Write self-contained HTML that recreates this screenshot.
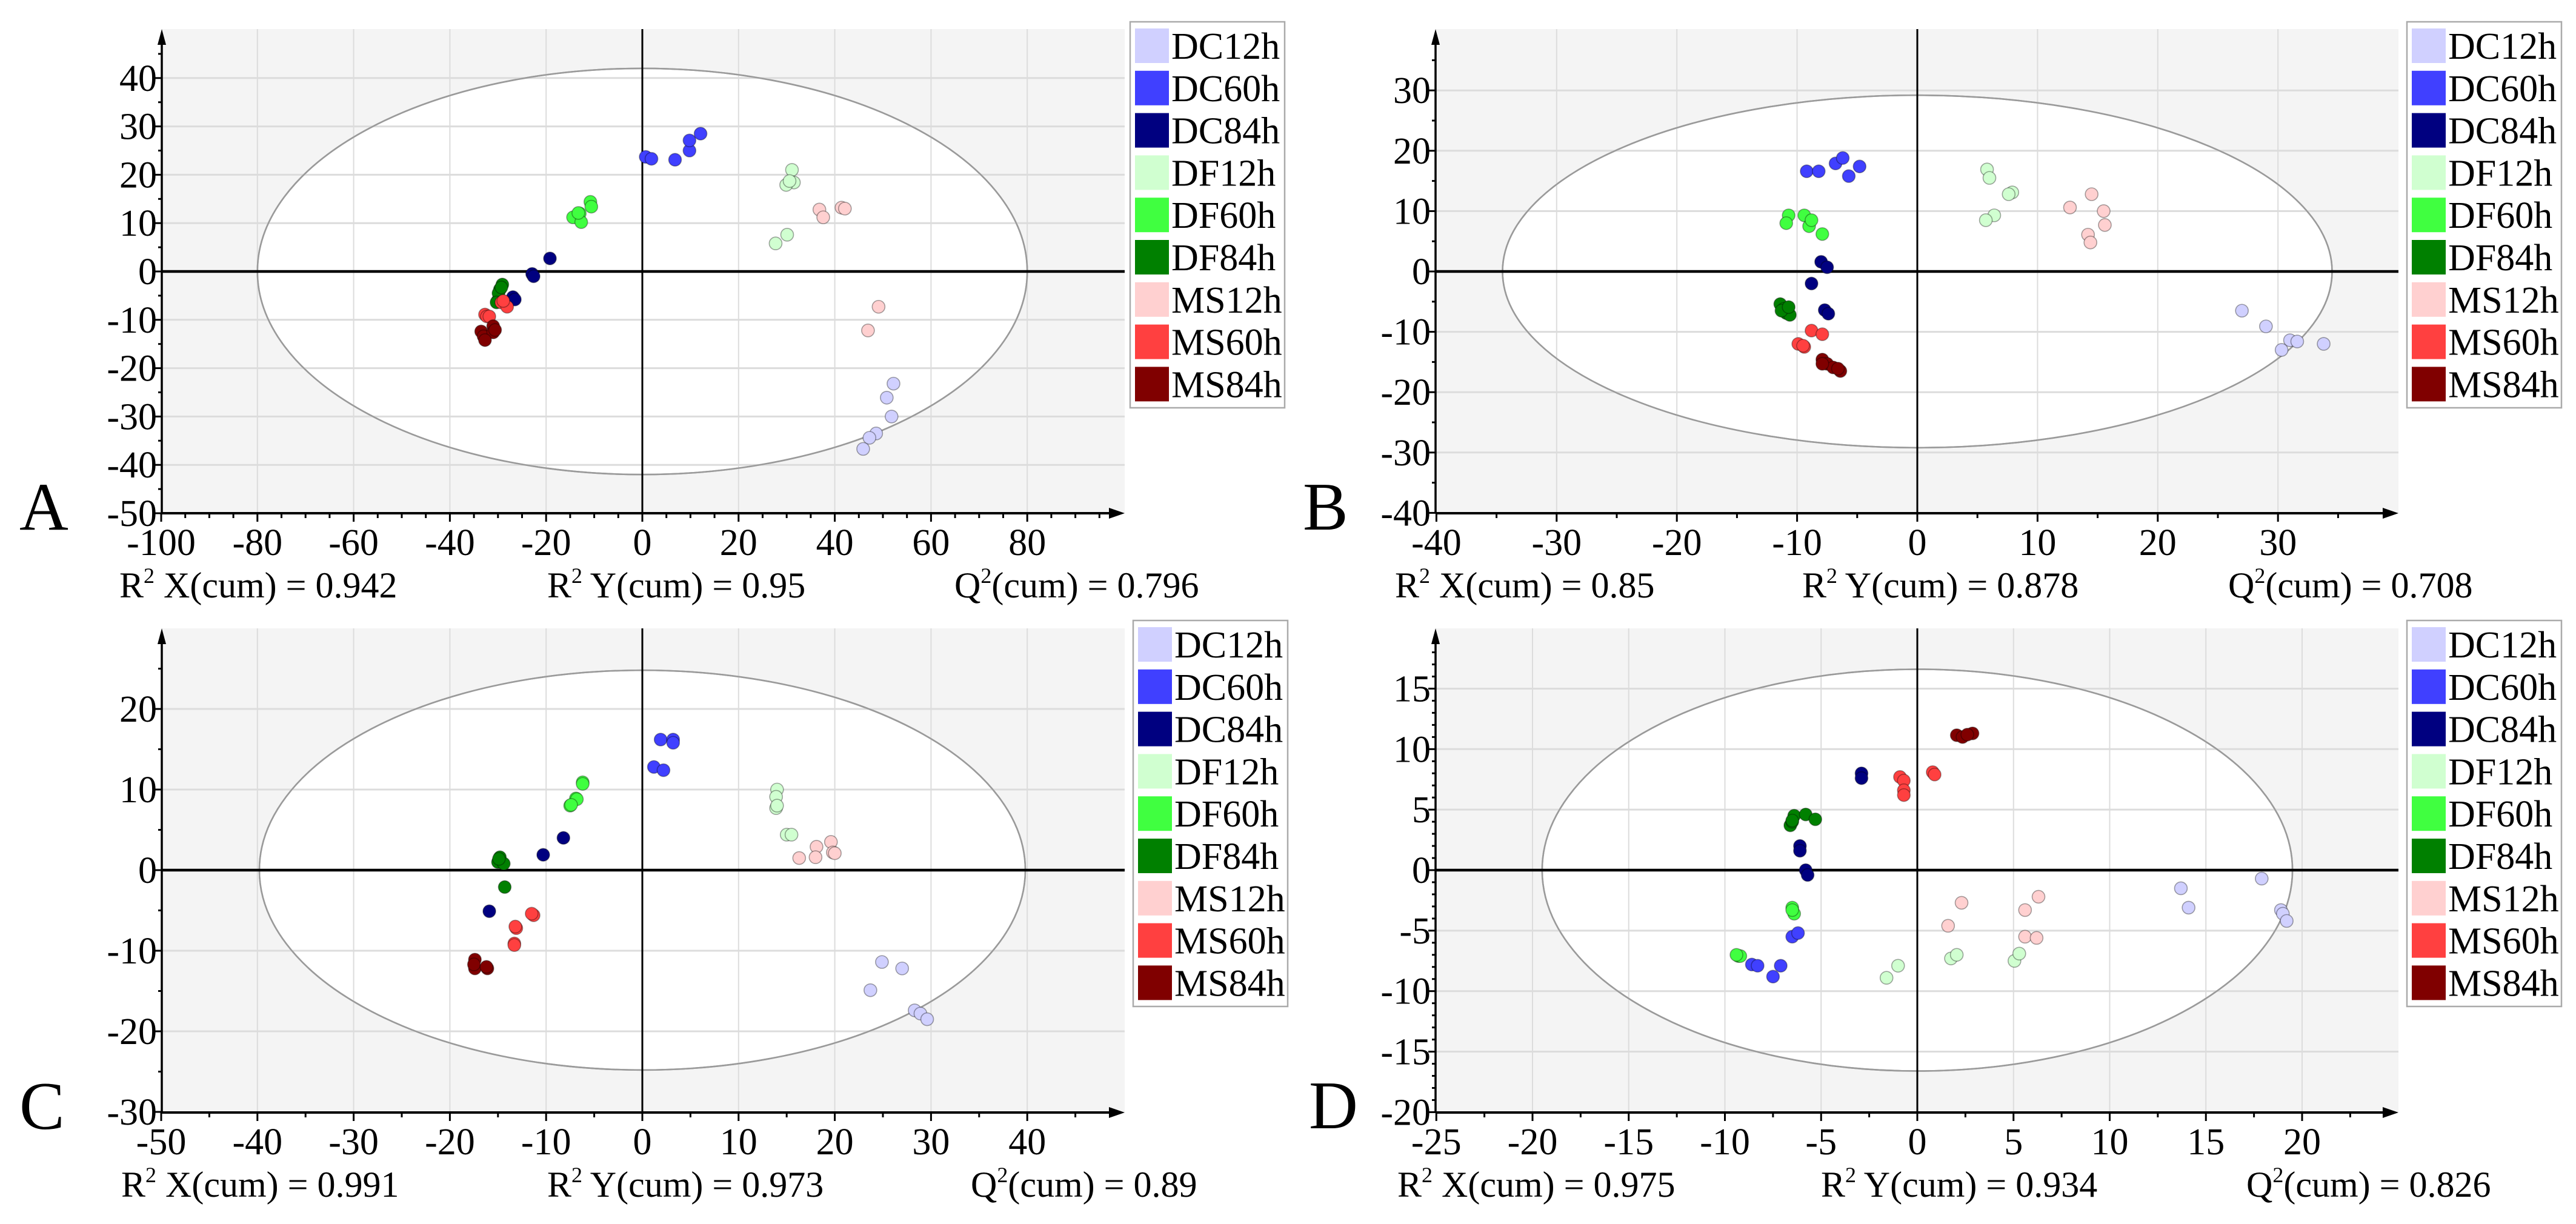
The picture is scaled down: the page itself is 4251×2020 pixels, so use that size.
<!DOCTYPE html>
<html><head><meta charset="utf-8"><style>
html,body{margin:0;padding:0;background:#fff;}
svg, svg text{font-family:"Liberation Serif","Times New Roman",serif;}
</style></head><body>
<svg id="fig" width="4251" height="2015" viewBox="0 0 4251 2015" xmlns="http://www.w3.org/2000/svg" font-family="Liberation Serif, serif"></svg>
<script>
// ---- shared data ----
const groupNames = ["DC12h","DC60h","DC84h","DF12h","DF60h","DF84h","MS12h","MS60h","MS84h"];
const groupColors = ["#d0d0ff","#4040ff","#000080","#d0ffd0","#40ff40","#008000","#ffd0d0","#ff4040","#800000"];

// ---- Panel A data ----
const aDC12x=[52.2,50.8,51.8,48.6,47.2,45.9], aDC12y=[-23.2,-26.1,-30.0,-33.5,-34.4,-36.7];
const aDC60x=[0.7,1.9,6.8,9.8,9.8,12.1], aDC60y=[23.7,23.3,23.1,25.0,27.1,28.5];
const aDC84x=[-19.2,-22.9,-22.6,-26.9,-26.5], aDC84y=[2.7,-0.5,-1.0,-5.3,-5.8];
const aDF12x=[31.1,31.5,29.9,30.1,27.7,30.6], aDF12y=[21.0,18.4,17.9,7.6,5.8,18.7];
const aDF60x=[-14.4,-13.0,-12.7,-10.8,-10.6,-13.3], aDF60y=[11.2,12.0,10.2,14.4,13.4,12.1];
const aDF84x=[-29.1,-29.6,-30.1,-29.9,-30.3,-29.3], aDF84y=[-2.7,-3.7,-6.1,-4.5,-6.4,-3.3];
const aMS12x=[36.8,37.6,41.4,42.1,49.1,46.9], aMS12y=[12.8,11.2,13.2,13.0,-7.3,-12.2];
const aMS60x=[-32.7,-32.3,-29.3,-28.1,-28.9,-31.8], aMS60y=[-8.9,-9.3,-6.4,-7.3,-6.1,-9.3];
const aMS84x=[-33.5,-33.0,-31.0,-31.0,-32.7,-30.6], aMS84y=[-12.4,-13.4,-11.3,-12.6,-14.2,-12.1];
const aXTicks=[-100,-80,-60,-40,-20,0,20,40,60,80], aYTicks=[-50,-40,-30,-20,-10,0,10,20,30,40];
const aStats=["0.942","0.95","0.796"];

// ---- Panel B data ----
const bDC12x=[27.0,29.0,31.0,31.6,30.3,33.8], bDC12y=[-6.5,-9.1,-11.4,-11.6,-13.0,-12.0];
const bDC60x=[-9.2,-8.2,-6.8,-6.2,-5.7,-4.8], bDC60y=[16.6,16.6,17.9,18.8,15.8,17.4];
const bDC84x=[-8.0,-7.5,-8.8,-7.7,-7.4], bDC84y=[1.6,0.7,-2.0,-6.4,-7.0];
const bDF12x=[5.8,6.0,7.9,7.6,6.4,5.7], bDF12y=[16.9,15.5,13.1,12.8,9.3,8.5];
const bDF60x=[-10.7,-10.9,-9.4,-9.0,-8.8,-7.9], bDF60y=[9.3,8.0,9.3,7.5,8.5,6.2];
const bDF84x=[-11.4,-11.1,-10.9,-10.6,-11.3,-10.7], bDF84y=[-5.4,-6.2,-6.9,-7.2,-6.5,-5.9];
const bMS12x=[14.5,12.7,15.5,15.6,14.2,14.4], bMS12y=[12.8,10.6,10.0,7.7,6.1,4.8];
const bMS60x=[-8.8,-7.9,-9.9,-9.4,-9.5], bMS60y=[-9.8,-10.4,-12.0,-12.5,-12.3];
const bMS84x=[-7.9,-7.5,-7.0,-6.4,-7.9,-6.6], bMS84y=[-14.6,-15.3,-15.9,-16.5,-15.3,-16.1];
const bXTicks=[-40,-30,-20,-10,0,10,20,30], bYTicks=[-40,-30,-20,-10,0,10,20,30];
const bStats=["0.85","0.878","0.708"];

// ---- Panel C data ----
const cDC12x=[24.9,27.0,23.7,28.3,28.9,29.6], cDC12y=[-11.4,-12.2,-14.9,-17.4,-17.8,-18.5];
const cDC60x=[1.9,3.2,3.2,1.2,2.2], cDC60y=[16.2,16.2,15.8,12.8,12.4];
const cDC84x=[-8.2,-10.3,-15.9], cDC84y=[4.0,1.9,-5.1];
const cDF12x=[14.0,13.9,13.9,15.0,15.5,14.0], cDF12y=[10.0,9.1,7.7,4.4,4.4,8.0];
const cDF60x=[-6.2,-6.9,-7.5,-6.2,-6.8,-7.4], cDF60y=[10.9,8.9,8.0,10.7,8.8,8.1];
const cDF84x=[-14.8,-15.0,-14.4,-14.3,-14.9], cDF84y=[1.6,1.0,0.8,-2.1,1.4];
const cMS12x=[18.1,19.6,16.3,18.0,19.8,20.0], cMS12y=[2.9,3.5,1.5,1.6,2.2,2.1];
const cMS60x=[-11.3,-11.5,-13.1,-13.3,-13.3,-13.2], cMS60y=[-5.6,-5.4,-7.2,-9.1,-9.3,-7.0];
const cMS84x=[-17.4,-17.4,-16.1,-17.5,-16.2], cMS84y=[-11.1,-12.2,-12.2,-11.7,-12.0];
const cXTicks=[-50,-40,-30,-20,-10,0,10,20,30,40], cYTicks=[-30,-20,-10,0,10,20];
const cStats=["0.991","0.973","0.89"];

// ---- Panel D data ----
const dDC12x=[13.7,14.1,17.9,18.9,19.0,19.2], dDC12y=[-1.5,-3.1,-0.7,-3.3,-3.6,-4.2];
const dDC60x=[-6.5,-6.2,-8.6,-8.3,-7.1,-7.5], dDC60y=[-5.5,-5.2,-7.8,-7.9,-7.9,-8.8];
const dDC84x=[-2.9,-2.9,-6.1,-6.1,-5.8,-5.7], dDC84y=[8.0,7.6,2.0,1.6,0.0,-0.4];
const dDF12x=[-1.0,-1.6,1.75,2.05,5.05,5.3], dDF12y=[-7.9,-8.9,-7.3,-7.0,-7.5,-6.9];
const dDF60x=[-6.5,-6.4,-9.3,-9.2,-6.5,-9.4], dDF60y=[-3.1,-3.6,-7.1,-7.1,-3.3,-7.0];
const dDF84x=[-6.6,-6.4,-5.8,-5.3,-6.5,-6.5], dDF84y=[3.7,4.5,4.6,4.2,4.0,4.1];
const dMS12x=[2.3,1.6,5.6,6.3,5.6,6.2], dMS12y=[-2.7,-4.6,-3.3,-2.2,-5.5,-5.6];
const dMS60x=[-0.9,-0.7,-0.7,-0.7,0.8,0.9], dMS60y=[7.7,7.4,6.6,6.2,8.1,7.9];
const dMS84x=[2.05,2.35,2.87,2.6], dMS84y=[11.15,11.0,11.3,11.2];
const dXTicks=[-25,-20,-15,-10,-5,0,5,10,15,20], dYTicks=[-20,-15,-10,-5,0,5,10,15];
const dStats=["0.975","0.934","0.826"];

const NS="http://www.w3.org/2000/svg";
const svg=document.getElementById('fig');
const FF='Liberation Serif, Times New Roman, serif';
function mk(tag,attrs,parent){const e=document.createElementNS(NS,tag);for(const k in attrs)e.setAttribute(k,attrs[k]);if(tag==='text')e.setAttribute('font-family',FF);(parent||svg).appendChild(e);return e;}

function drawPanel(cfg){
  const g=mk('g',{});
  
  
  const L=cfg.left,R=cfg.right,T=cfg.top,B=cfg.bottom;
  const sx=v=>cfg.x0px+(v)*cfg.kx;
  const sy=v=>cfg.y0px-(v)*cfg.ky;
  const bg=mk('rect',{x:L,y:T,width:R-L,height:B-T,fill:'#f4f4f4'},g);
  
  
  const el=mk('ellipse',{cx:sx(0),cy:sy(0),rx:cfg.ex*cfg.kx,ry:cfg.ey*cfg.ky,fill:'#fff',stroke:'#999','stroke-width':2.5},g);
  
  
  cfg.xt.forEach(v=>{ if(v===cfg.xt[0]||v===0) return;
    const l=mk('line',{x1:sx(v),x2:sx(v),y1:T,y2:B,stroke:'#dcdcdc','stroke-width':2},g);
    
    });
  cfg.yt.forEach(v=>{ if(v===cfg.yt[0]||v===0) return;
    const l=mk('line',{x1:L,x2:R,y1:sy(v),y2:sy(v),stroke:'#dcdcdc','stroke-width':3},g);
    
    });
  mk('ellipse',{cx:sx(0),cy:sy(0),rx:cfg.ex*cfg.kx,ry:cfg.ey*cfg.ky,fill:'none',stroke:'#9a9a9a','stroke-width':2.5},g);
  const zv=mk('line',{x1:sx(0),x2:sx(0),y1:T,y2:B,stroke:'#000','stroke-width':3},g);
  
  
  const zh=mk('line',{x1:L,x2:R,y1:sy(0),y2:sy(0),stroke:'#000','stroke-width':4.5},g);
  
  
  const xa=mk('line',{x1:L,x2:R-14,y1:B,y2:B,stroke:'#000','stroke-width':4},g);
  
  
  mk('polygon',{points:`${R},${B} ${R-26},${B-9} ${R-26},${B+9}`,fill:'#000'},g);
  const ya=mk('line',{x1:L,x2:L,y1:B,y2:T+14,stroke:'#000','stroke-width':3.5},g);
  
  
  mk('polygon',{points:`${L},${T} ${L-7},${T+26} ${L+7},${T+26}`,fill:'#000'},g);
  const xStep=cfg.xt[1]-cfg.xt[0], xm=xStep/cfg.xMinorDiv;
  for(let v=cfg.xt[0]; sx(v)<R-30; v+=xm){
    const major=Math.abs(((v-cfg.xt[0])/xStep)-Math.round((v-cfg.xt[0])/xStep))<1e-6;
    mk('line',{x1:sx(v),x2:sx(v),y1:B,y2:B+(major?14:8),stroke:'#000','stroke-width':3},g);
  }
  const yStep=cfg.yt[1]-cfg.yt[0], ym=yStep/cfg.yMinorDiv;
  for(let v=cfg.yt[0]; sy(v)>T+30; v+=ym){
    const major=Math.abs(((v-cfg.yt[0])/yStep)-Math.round((v-cfg.yt[0])/yStep))<1e-6;
    mk('line',{x1:L-(major?12:6),x2:L,y1:sy(v),y2:sy(v),stroke:'#000','stroke-width':3},g);
  }
  cfg.xt.forEach(v=>{const t=mk('text',{x:sx(v),y:B+69,'font-size':62,'text-anchor':'middle'},g);t.textContent=String(v);
    
    });
  cfg.yt.forEach(v=>{const t=mk('text',{x:L-8,y:sy(v)+21,'font-size':62,'text-anchor':'end'},g);t.textContent=String(v);
    
    });
  cfg.series.forEach((s,i)=>{
    const sg=mk('g',{},g);
    
    
    s[0].forEach((xv,j)=>{
      const c=mk('circle',{cx:sx(xv),cy:sy(s[1][j]),r:10.5,fill:groupColors[i],stroke:'rgba(0,0,0,0.35)','stroke-width':1.6},sg);
      
      
    });
  });
  const lg=mk('g',{},g);
  
  
  mk('rect',{x:cfg.lx,y:cfg.ly,width:255,height:637,fill:'#fff',stroke:'#aaa','stroke-width':2.5},lg);
  groupNames.forEach((n,i)=>{
    const eg=mk('g',{},lg);
    
    
    const y=cfg.ly+11+i*69.8;
    mk('rect',{x:cfg.lx+8,y:y,width:56,height:57,fill:groupColors[i]},eg);
    const t=mk('text',{x:cfg.lx+68,y:y+50,'font-size':62},eg);t.textContent=n;
  });
  const pl=mk('text',{x:cfg.letterX,y:cfg.letterY,'font-size':112},g);pl.textContent=cfg.letter;
  
  
  const labels=[['R','X(cum) = '],['R','Y(cum) = '],['Q','(cum) = ']];
  cfg.stats.forEach((v,i)=>{
    const t=mk('text',{x:cfg.statX[i],y:B+139,'font-size':60},g);
    
    
    const a=mk('tspan',{},t);a.textContent=labels[i][0];
    const s=mk('tspan',{'font-size':36,dy:-24},t);s.textContent='2';
    const b=mk('tspan',{dy:24},t);b.textContent=(i<2?' ':'')+labels[i][1]+v;
  });
}

drawPanel({letter:'A',left:267,right:1856,top:48,bottom:847,x0px:1060,kx:7.94,y0px:448,ky:7.98,ex:80,ey:42,
  xt:aXTicks,yt:aYTicks,xMinorDiv:4,yMinorDiv:2,stats:aStats,statX:[197,903,1575],lx:1865,ly:36,letterX:32,letterY:874,
  series:[[aDC12x,aDC12y],[aDC60x,aDC60y],[aDC84x,aDC84y],[aDF12x,aDF12y],[aDF60x,aDF60y],[aDF84x,aDF84y],[aMS12x,aMS12y],[aMS60x,aMS60y],[aMS84x,aMS84y]]});
drawPanel({letter:'B',left:2369,right:3958,top:48,bottom:847,x0px:3164,kx:19.84,y0px:448,ky:9.96,ex:34.5,ey:29.2,
  xt:bXTicks,yt:bYTicks,xMinorDiv:2,yMinorDiv:2,stats:bStats,statX:[2302,2974,3677],lx:3972,ly:36,letterX:2150,letterY:874,
  series:[[bDC12x,bDC12y],[bDC60x,bDC60y],[bDC84x,bDC84y],[bDF12x,bDF12y],[bDF60x,bDF60y],[bDF84x,bDF84y],[bMS12x,bMS12y],[bMS60x,bMS60y],[bMS84x,bMS84y]]});
drawPanel({letter:'C',left:267,right:1856,top:1037,bottom:1836,x0px:1060,kx:15.88,y0px:1436,ky:13.3,ex:39.8,ey:24.8,
  xt:cXTicks,yt:cYTicks,xMinorDiv:2,yMinorDiv:2,stats:cStats,statX:[200,903,1602],lx:1870,ly:1024,letterX:32,letterY:1863,
  series:[[cDC12x,cDC12y],[cDC60x,cDC60y],[cDC84x,cDC84y],[cDF12x,cDF12y],[cDF60x,cDF60y],[cDF84x,cDF84y],[cMS12x,cMS12y],[cMS60x,cMS60y],[cMS84x,cMS84y]]});
drawPanel({letter:'D',left:2369,right:3958,top:1037,bottom:1836,x0px:3164,kx:31.75,y0px:1436,ky:19.97,ex:19.5,ey:16.6,
  xt:dXTicks,yt:dYTicks,xMinorDiv:2,yMinorDiv:5,stats:dStats,statX:[2306,3005,3707],lx:3972,ly:1024,letterX:2160,letterY:1862,
  series:[[dDC12x,dDC12y],[dDC60x,dDC60y],[dDC84x,dDC84y],[dDF12x,dDF12y],[dDF60x,dDF60y],[dDF84x,dDF84y],[dMS12x,dMS12y],[dMS60x,dMS60y],[dMS84x,dMS84y]]});
</script>
</body></html>
